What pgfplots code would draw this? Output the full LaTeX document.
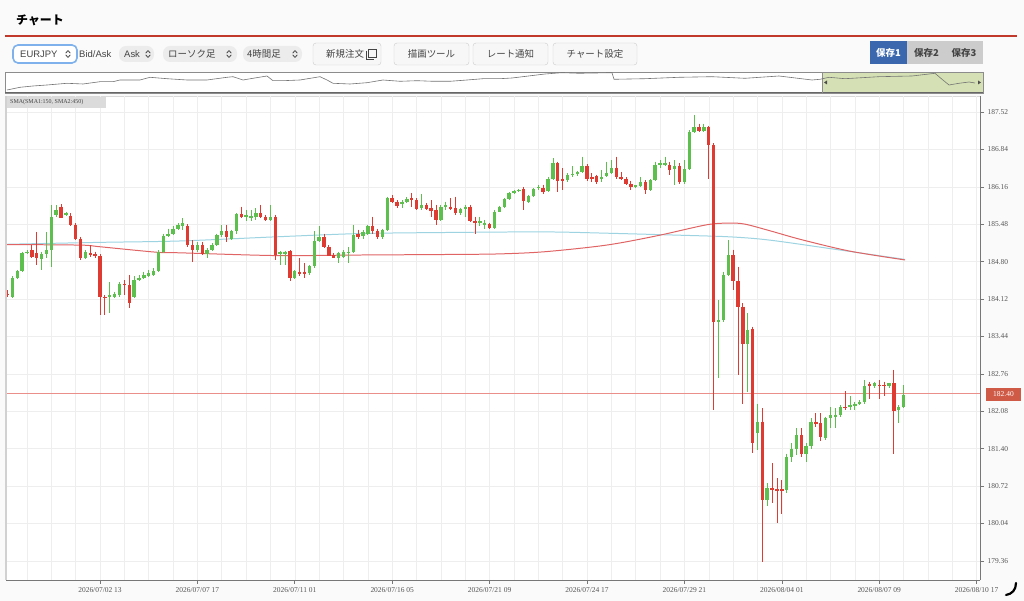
\documentclass[border=0pt]{standalone}
\usepackage{fontspec}
\setmainfont{Liberation Serif}
\newfontfamily\uisans{Liberation Sans}
\newfontfamily\cjk{Noto Sans CJK JP}
\usepackage{pgfplots}
\usepackage{pgfplotstable}
\pgfplotsset{compat=1.18}

\definecolor{candleup}{HTML}{5CBF4E}
\definecolor{candledown}{HTML}{DE3B32}
\definecolor{smaone}{HTML}{E06464}
\definecolor{smatwo}{HTML}{9ED4E2}
\definecolor{lastline}{HTML}{EB8F8A}
\definecolor{gridgray}{HTML}{EEEEEE}
\definecolor{axisdark}{HTML}{777777}
\definecolor{labelgray}{HTML}{555555}
\definecolor{headred}{HTML}{C0392B}
\definecolor{savblue}{HTML}{3A67AE}
\definecolor{navgreen}{HTML}{D5E1B4}
\definecolor{pagebg}{HTML}{FAFAFA}
\definecolor{pillgray}{HTML}{ECECEC}
\definecolor{btnborder}{HTML}{CCCCCC}
\definecolor{txtgray}{HTML}{444444}
\definecolor{selblue}{HTML}{7FB2EC}
\definecolor{pricered}{HTML}{CF5A46}

% rising candles: index, open, high, low, close
\pgfplotstableread{
i o h l c
2 184.16 184.53 184.13 184.50
3 184.50 184.65 184.48 184.63
4 184.63 184.98 184.62 184.95
5 184.95 185.01 184.93 184.98
8 184.84 184.98 184.65 184.93
9 184.93 185.34 184.86 185.01
10 185.01 185.83 184.71 185.62
11 185.65 185.83 185.62 185.74
13 185.65 185.71 185.63 185.68
17 184.87 185.01 184.85 184.97
22 184.16 184.43 183.86 184.19
23 184.16 184.25 184.13 184.22
24 184.19 184.43 184.16 184.40
27 184.16 184.53 184.13 184.47
28 184.47 184.56 184.45 184.50
29 184.50 184.62 184.48 184.56
30 184.54 184.65 184.52 184.59
31 184.56 184.68 184.54 184.63
32 184.63 185.01 184.61 184.98
33 184.98 185.31 184.96 185.27
34 185.27 185.40 185.25 185.31
35 185.31 185.44 185.29 185.40
36 185.40 185.50 185.38 185.46
37 185.44 185.59 185.38 185.50
40 185.02 185.16 184.98 185.10
42 184.93 185.04 184.86 185.01
43 185.01 185.13 184.99 185.10
44 185.10 185.31 185.08 185.28
45 185.28 185.47 185.25 185.35
47 185.22 185.38 185.19 185.35
48 185.35 185.68 185.31 185.66
50 185.62 185.74 185.53 185.65
51 185.60 185.74 185.53 185.63
52 185.62 185.77 185.56 185.68
55 185.56 185.83 185.53 185.61
57 184.93 184.99 184.74 184.98
58 184.93 185.00 184.74 184.98
60 184.50 184.65 184.48 184.63
63 184.60 184.74 184.56 184.72
64 184.72 185.35 184.68 185.17
65 185.17 185.44 185.16 185.25
69 184.87 184.98 184.77 184.95
70 184.89 185.01 184.86 184.98
71 184.95 185.07 184.77 184.98
72 184.98 185.47 184.95 185.28
74 185.27 185.37 185.22 185.34
75 185.31 185.47 185.28 185.44
78 185.25 185.40 185.22 185.37
79 185.37 185.98 185.36 185.95
82 185.84 185.92 185.77 185.88
83 185.88 185.97 185.86 185.94
86 185.77 186.03 185.74 185.83
90 185.56 185.83 185.54 185.80
91 185.80 185.89 185.74 185.83
94 185.68 185.78 185.65 185.76
95 185.76 185.83 185.62 185.80
98 185.50 185.62 185.44 185.53
99 185.47 185.56 185.40 185.51
101 185.42 185.74 185.40 185.71
102 185.71 185.82 185.70 185.80
103 185.80 185.96 185.78 185.94
104 185.94 186.06 185.92 186.04
105 186.05 186.10 186.03 186.08
106 186.08 186.12 186.06 186.11
108 185.89 186.02 185.87 186.00
109 186.00 186.14 185.98 186.12
110 186.13 186.20 186.10 186.16
112 186.09 186.34 186.07 186.31
113 186.31 186.68 186.28 186.59
116 186.28 186.41 186.25 186.37
117 186.37 186.53 186.34 186.40
118 186.39 186.45 186.36 186.43
119 186.43 186.71 186.41 186.54
123 186.31 186.47 186.25 186.34
124 186.35 186.62 186.33 186.42
125 186.42 186.65 186.40 186.51
130 186.16 186.19 186.14 186.19
131 186.18 186.34 186.15 186.25
133 186.11 186.30 186.09 186.28
134 186.28 186.62 186.27 186.56
135 186.56 186.65 186.50 186.59
136 186.56 186.71 186.53 186.59
138 186.48 186.65 186.19 186.53
140 186.24 186.65 186.22 186.48
141 186.48 187.19 186.47 187.16
142 187.16 187.47 187.13 187.24
144 187.18 187.31 187.16 187.24
147 183.71 184.10 182.68 183.74
148 183.74 184.62 183.71 184.56
149 184.56 185.19 184.53 184.92
153 183.31 183.86 182.43 183.56
155 181.68 182.22 181.37 181.89
157 180.47 180.77 180.35 180.68
161 180.65 181.31 180.59 181.25
162 181.25 181.50 181.16 181.40
163 181.40 181.77 181.28 181.65
165 181.31 181.50 181.16 181.44
166 181.44 181.95 181.40 181.89
169 181.59 181.98 181.56 181.95
170 181.95 182.16 181.77 182.01
171 181.98 182.13 181.77 182.02
172 182.01 182.19 181.98 182.16
174 182.16 182.35 182.10 182.19
175 182.17 182.25 182.10 182.22
176 182.22 182.28 182.20 182.25
177 182.24 182.65 182.22 182.53
179 182.53 182.62 182.50 182.59
182 182.53 182.60 182.50 182.59
184 182.10 182.19 181.86 182.15
185 182.15 182.56 182.13 182.38
}\upcandles

% falling candles
\pgfplotstableread{
i o h l c
1 184.22 184.28 184.16 184.19
6 185.01 185.10 184.86 184.89
7 184.95 185.34 184.74 184.87
12 185.80 185.84 185.59 185.60
14 185.63 185.68 185.44 185.47
15 185.47 185.50 185.19 185.22
16 185.22 185.25 184.83 184.86
18 184.95 185.10 184.89 184.92
19 184.93 184.98 184.86 184.90
20 184.90 184.93 183.83 184.16
21 184.16 184.19 183.83 184.13
25 184.40 184.47 184.19 184.37
26 184.37 184.56 183.95 184.04
38 185.44 185.48 185.07 185.10
39 185.10 185.19 184.80 185.02
41 185.10 185.16 184.92 184.93
46 185.35 185.47 185.16 185.24
49 185.66 185.80 185.59 185.62
53 185.68 185.83 185.59 185.62
54 185.62 185.65 185.53 185.56
56 185.62 185.65 184.83 184.92
59 184.99 185.01 184.44 184.50
61 184.62 184.86 184.53 184.57
62 184.62 184.77 184.50 184.57
66 185.25 185.31 185.04 185.07
67 185.07 185.10 184.90 184.91
68 184.92 184.95 184.86 184.87
73 185.30 185.38 185.22 185.24
76 185.44 185.62 185.31 185.36
77 185.36 185.40 185.22 185.25
80 185.95 186.01 185.86 185.89
81 185.89 185.92 185.77 185.82
84 185.95 186.05 185.80 185.92
85 185.92 185.95 185.74 185.76
87 185.83 185.86 185.74 185.76
88 185.77 185.92 185.62 185.72
89 185.74 185.83 185.47 185.56
92 185.80 185.95 185.74 185.76
93 185.77 185.98 185.65 185.68
96 185.80 185.83 185.52 185.54
97 185.54 185.62 185.31 185.50
100 185.48 185.51 185.39 185.42
107 186.12 186.16 185.74 185.90
111 186.14 186.20 186.03 186.06
114 186.59 186.62 186.07 186.27
115 186.31 186.50 186.10 186.26
120 186.54 186.57 186.27 186.30
121 186.34 186.41 186.25 186.30
122 186.35 186.38 186.22 186.25
126 186.51 186.71 186.31 186.34
127 186.34 186.43 186.28 186.31
128 186.31 186.33 186.19 186.21
129 186.21 186.27 186.10 186.16
132 186.25 186.28 186.03 186.11
137 186.56 186.62 186.37 186.47
139 186.54 186.59 186.22 186.24
143 187.24 187.31 187.16 187.18
145 187.24 187.27 186.31 186.92
146 186.92 186.95 182.10 183.71
150 184.92 185.02 184.28 184.45
151 184.45 184.71 182.74 183.98
152 183.98 184.04 182.22 183.31
154 183.57 183.62 181.32 181.50
156 181.89 182.13 179.34 180.47
158 180.68 181.13 180.41 180.65
159 180.66 180.86 180.04 180.63
160 180.66 180.83 180.22 180.63
164 181.65 181.77 181.25 181.31
167 181.89 182.04 181.80 181.85
168 181.86 182.04 181.53 181.62
173 182.16 182.44 182.10 182.13
178 182.57 182.62 182.31 182.54
180 182.56 182.65 182.31 182.53
181 182.56 182.62 182.35 182.53
183 182.59 182.83 181.31 182.09
}\downcandles

% last price line
\pgfplotstableread{
x y
0.7 182.40
60 182.40
120 182.40
200.7 182.40
}\lastprice

\newcommand{\updown}[2]{%
  \draw[txtgray, line width=0.8bp, line cap=round, line join=round]
    (#1-2.2,#2-1) -- (#1,#2-3.4) -- (#1+2.2,#2-1);
  \draw[txtgray, line width=0.8bp, line cap=round, line join=round]
    (#1-2.2,#2+1) -- (#1,#2+3.4) -- (#1+2.2,#2+1);}

\pgfplotsset{
  candle/.style 2 args={draw=none, no markers, forget plot,
    error bars/.cd, y dir=minus, y explicit, error mark=none,
    error bar style={draw=#1, solid, line width=#2}},
}

\begin{document}
\begin{tikzpicture}
\useasboundingbox (0,0) rectangle (1024bp,601bp);

% page, header, toolbar, navigator frame (pixel coordinates, y downwards)
\begin{scope}[x=1bp, y=-1bp, shift={(0,601bp)}]
  \fill[pagebg] (0,0) rectangle (1024,601);
  \draw[headred, line width=1.2bp] (5,36) -- (1017,36);
  \node[anchor=base west, inner sep=0, font=\cjk\bfseries\fontsize{12}{14}\selectfont] at (16,25) {チャート};

  \draw[selblue, line width=1.6bp, fill=white, rounded corners=5bp] (13,45) rectangle (77,63);
  \node[anchor=base west, inner sep=0, text=txtgray, font=\uisans\fontsize{9.5}{11}\selectfont] at (20,58) {EURJPY};
  \updown{68}{54}
  \node[anchor=base west, inner sep=0, text=txtgray, font=\uisans\fontsize{9.5}{11}\selectfont] at (79,58) {Bid/Ask};
  \fill[pillgray, rounded corners=7bp] (119,46) rectangle (154,62);
  \node[anchor=base west, inner sep=0, text=txtgray, font=\uisans\fontsize{9.5}{11}\selectfont] at (124,58) {Ask};
  \updown{148}{54}
  \fill[pillgray, rounded corners=7bp] (163,46) rectangle (237,62);
  \node[anchor=base west, inner sep=0, text=txtgray, font=\cjk\fontsize{9.5}{11}\selectfont] at (168,58) {ローソク足};
  \updown{229}{54}
  \fill[pillgray, rounded corners=7bp] (243,46) rectangle (302,62);
  \node[anchor=base west, inner sep=0, text=txtgray, font=\cjk\fontsize{9.5}{11}\selectfont] at (247,58) {4時間足};
  \updown{295}{54}

  \draw[btnborder, fill=white!97!black, rounded corners=3bp] (313,43) rectangle (381,65);
  \node[anchor=base west, inner sep=0, text=txtgray, font=\cjk\fontsize{9.5}{11}\selectfont] at (326,58) {新規注文};
  \draw[txtgray, line width=0.9bp] (368,49) rectangle (376,57);
  \draw[txtgray, line width=0.9bp] (366,51) -- (366,59) -- (374,59);
  \draw[btnborder, fill=white!97!black, rounded corners=3bp] (394,43) rectangle (469,65);
  \node[text=txtgray, font=\cjk\fontsize{9.5}{11}\selectfont] at (431.5,54) {描画ツール};
  \draw[btnborder, fill=white!97!black, rounded corners=3bp] (473,43) rectangle (548,65);
  \node[text=txtgray, font=\cjk\fontsize{9.5}{11}\selectfont] at (510.5,54) {レート通知};
  \draw[btnborder, fill=white!97!black, rounded corners=3bp] (553,43) rectangle (637,65);
  \node[text=txtgray, font=\cjk\fontsize{9.5}{11}\selectfont] at (595,54) {チャート設定};

  \fill[savblue] (870,41) rectangle (907,64);
  \fill[black!20] (907,41) rectangle (983,64);
  \node[text=white, font=\cjk\bfseries\fontsize{9.5}{11}\selectfont] at (888.5,52.5) {保存1};
  \node[text=txtgray, font=\cjk\bfseries\fontsize{9.5}{11}\selectfont] at (926.5,52.5) {保存2};
  \node[text=txtgray, font=\cjk\bfseries\fontsize{9.5}{11}\selectfont] at (964,52.5) {保存3};

  \fill[white] (5,72) rectangle (983,93);
  \fill[navgreen] (822,72) rectangle (983,93);
  \draw[black!45, line width=0.7bp] (5,72) rectangle (983,93);
  \draw[black!60, line width=1bp] (5,92.5) -- (983,92.5);
  \draw[black!45, line width=0.6bp] (822,72) -- (822,93);
  \fill[black!70] (824,82.5) -- (827,80.5) -- (827,84.5) -- cycle;
  \fill[black!70] (981,82.5) -- (978,80.5) -- (978,84.5) -- cycle;

  \fill[white] (5,96) rectangle (980,580);
  \draw[black!15, line width=0.8bp] (5,96) -- (980,96);
\end{scope}

% navigator overview line
\begin{axis}[
    at={(5bp,508bp)}, anchor=south west,
    scale only axis, width=978bp, height=21bp,
    hide axis, xmin=5, xmax=983, ymin=72, ymax=93, y dir=reverse,
  ]
  \addplot[black!55, line width=0.6pt] coordinates {
    (7,90)(20,87.3)(33,86)(47,85)(67,83.3)(83,84)(100,81.7)(113,81.7)(120,80)
    (140,80)(150,77.3)(167,78.7)(187,80)(207,80)(227,77.3)(233,76.7)(243,80)
    (253,78.3)(267,76)(273,80.7)(283,80.7)(300,80)(320,76.7)(327,80)(333,83.3)
    (350,84)(367,82.7)(383,80)(400,81.3)(417,80.7)(433,81.3)(450,81.3)(467,80)
    (483,78.7)(500,78.7)(512,78)(545,74)(562,72.7)(579,73.3)(612,72.7)(614,79.3)
    (645,78.7)(679,77.3)(712,76.7)(745,78.3)(779,76)(812,80)(820,79.3)(829,77.3)
    (845,78.7)(879,76.7)(912,76)(935,73.3)(942,79.3)(949,85)(959,83.3)(969,82)(975,83)};
\end{axis}

% main price chart
\begin{axis}[
    at={(6bp,21bp)}, anchor=south west,
    scale only axis, width=974bp, height=484bp,
    xmin=0.7, xmax=200.7, ymin=179.011, ymax=187.811,
    axis x line*=bottom, axis y line*=right,
    axis line style={-, draw=axisdark, line width=0.9pt},
    xtick={20,40,...,200},
    xticklabels={2026/07/02 13,2026/07/07 17,2026/07/11 01,2026/07/16 05,2026/07/21 09,
                 2026/07/24 17,2026/07/29 21,2026/08/04 01,2026/08/07 09,2026/08/10 17},
    minor xtick={5,10,...,200},
    ytick={179.36,180.04,180.72,181.40,182.08,182.76,183.44,184.12,184.80,185.48,186.16,186.84,187.52},
    grid=both,
    major grid style={draw=gridgray, line width=0.5pt},
    minor grid style={draw=gridgray, line width=0.5pt},
    tick align=outside, major tick length=4bp, minor tick length=0pt,
    tick style={draw=axisdark, line width=0.6pt},
    ticklabel style={font=\fontsize{7.5}{9}\selectfont, text=labelgray},
    yticklabel style={/pgf/number format/fixed, /pgf/number format/fixed zerofill,
                      /pgf/number format/precision=2},
    /pgf/number format/assume math mode=true,
  ]
  \addplot[smatwo, line width=1pt, smooth, tension=0.5, no markers] coordinates {
    (0.7,185.115)(20,185.15)(36.4,185.175)(56,185.25)(73.4,185.31)(91.9,185.33)
    (111.4,185.34)(124.7,185.315)(139,185.28)(149.4,185.25)(157.6,185.19)
    (172,185.01)(185.3,184.84)};
  \addplot[smaone, line width=1pt, smooth, tension=0.5, no markers] coordinates {
    (0.7,185.11)(16,185.10)(20,185.07)(31.7,184.97)(36.4,184.96)(56,184.91)
    (73.4,184.92)(91.9,184.93)(102,184.94)(111.4,184.98)(124,185.10)(134.4,185.27)
    (144.6,185.47)(149.4,185.50)(152.5,185.48)(157.6,185.36)(164,185.20)
    (174,184.99)(185.3,184.83)};
  \addplot[draw=lastline, line width=1.1pt, no markers, line cap=butt] table[x=x, y=y] {\lastprice};

  % wicks
  \addplot[candle={candleup}{0.8pt}]
    table[x=i, y=h, y error minus expr=\thisrow{h}-\thisrow{l}] {\upcandles};
  \addplot[candle={candledown}{0.8pt}]
    table[x=i, y=h, y error minus expr=\thisrow{h}-\thisrow{l}] {\downcandles};
  % bodies
  \addplot[candle={candleup}{3.4bp}]
    table[x=i, y=c, y error minus expr=\thisrow{c}-\thisrow{o}] {\upcandles};
  \addplot[candle={candledown}{3.4bp}]
    table[x=i, y=o, y error minus expr=\thisrow{o}-\thisrow{c}] {\downcandles};
\end{axis}

% overlays
\begin{scope}[x=1bp, y=-1bp, shift={(0,601bp)}]
  \draw[black!18, line width=2bp] (6,96) -- (6,580);
  \fill[black!14] (7,97) rectangle (106,108);
  \node[anchor=west, inner sep=0, text=txtgray, font=\fontsize{6}{7}\selectfont] at (10,102.5) {SMA(SMA1:150, SMA2:450)};
  \fill[pricered] (986,388) rectangle (1021,401);
  \node[text=white, inner sep=0, font=\fontsize{7.5}{9}\selectfont] at (1003.5,394.5) {182.40};
  \draw[black, line width=2.2bp, line cap=round] (1016,583) .. controls (1016,590) and (1012,594) .. (1006,595);
\end{scope}
\end{tikzpicture}
\end{document}
